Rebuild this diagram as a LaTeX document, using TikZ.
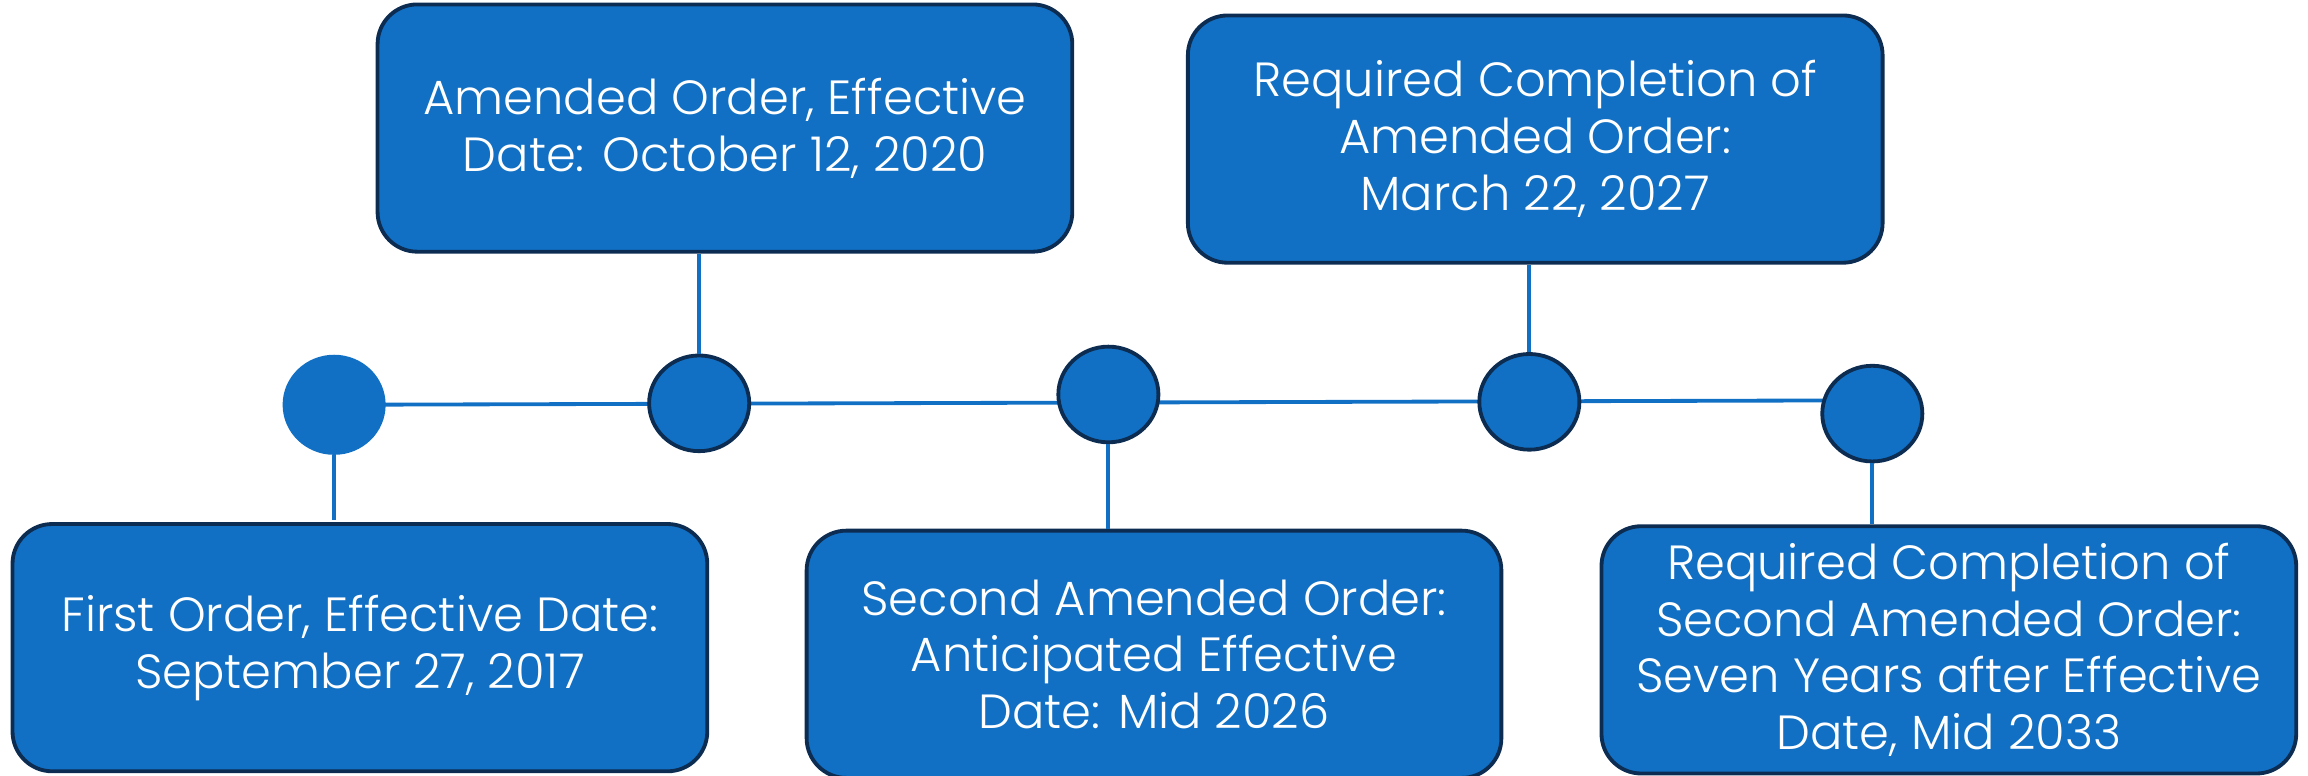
\documentclass[tikz,border=0pt]{standalone}
\usepackage{fontspec}
\setmainfont{Poppins}[UprightFont=* Light]
\usetikzlibrary{shapes.geometric,backgrounds}
\definecolor{fillblue}{RGB}{17,112,196}
\definecolor{navy}{RGB}{12,44,82}
\tikzset{
  evbox/.style={draw=navy, line width=2.6pt, fill=fillblue, rounded corners=27pt,
    minimum width=472pt, minimum height=168pt, text=white, align=center,
    font=\fontsize{32.6}{38.6}\selectfont, inner sep=0pt},
  dot/.style={ellipse, fill=fillblue, draw=navy, line width=2.6pt, minimum width=68pt, minimum height=65pt, inner sep=0pt},
  dotplain/.style={ellipse, fill=fillblue, minimum width=70pt, minimum height=68pt, inner sep=0pt},
  link/.style={draw=fillblue, line width=2.6pt}
}
\begin{document}
\begin{tikzpicture}[x=1pt,y=-1pt]
\useasboundingbox (0,0) rectangle (1568,527);
% boxes
\node[evbox] (b1) at (244.5,440) {First Order, Effective Date:\\September 27, 2017};
\node[evbox] (b2) at (492.5,87) {Amended Order, Effective\\Date: October 12, 2020};
\node[evbox] (b3) at (784,444.5) {Second Amended Order:\\Anticipated Effective\\Date: Mid 2026};
\node[evbox] (b4) at (1043,94.5) {Required Completion of\\Amended Order:\\March 22, 2027};
\node[evbox] (b5) at (1324,441.5) {Required Completion of\\Second Amended Order:\\Seven Years after Effective\\Date, Mid 2033};
% dots
\node[dotplain] (c1) at (227,275) {};
\node[dot] (c2) at (475,274) {};
\node[dot] (c3) at (753,268) {};
\node[dot] (c4) at (1039,273) {};
\node[dot] (c5) at (1272,281) {};
% timeline (behind the dots)
\coordinate (tend) at (1262,272);
\begin{scope}[on background layer]
\draw[link] (c1.center) -- (tend);
\end{scope}
% stems
\coordinate (s1) at (227,353);
\draw[link] (c1.south) -- (s1);
\draw[link] (c2.north) -- (c2.north |- b2.south);
\draw[link] (c3.south) -- (c3.south |- b3.north);
\draw[link] (c4.north) -- (c4.north |- b4.south);
\draw[link] (c5.south) -- (c5.south |- b5.north);
\end{tikzpicture}
\end{document}
